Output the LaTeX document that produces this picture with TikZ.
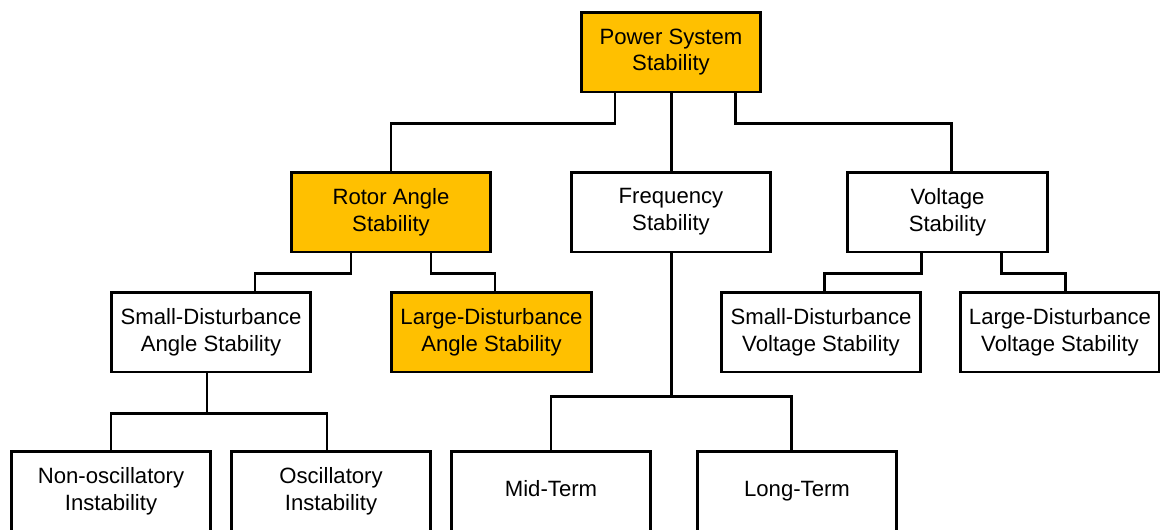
\documentclass[tikz,border=0pt]{standalone}
\usepackage{fontspec}
\setmainfont{Liberation Sans}
\usepackage{xcolor}
\usetikzlibrary{calc}
\definecolor{amber}{HTML}{FFC000}

\begin{document}
\begin{tikzpicture}[x=0.02cm, y=-0.02cm, line width=1.7pt,
    box/.style={draw, rectangle, minimum width=4cm, minimum height=1.6cm,
      inner sep=0pt, align=center, font=\fontsize{12.6}{15.3}\selectfont},
    hl/.style={box, fill=amber}]
    \useasboundingbox (0,0) rectangle (1160,529);
    % top
    \node[hl, minimum width=3.6cm] (pss) at (671,52) {Power System\\Stability};
    % second row
    \node[hl] (rotor) at (391,212) {Rotor Angle\\Stability};
    \node[box] (freq) at (671,212) {Frequency\\Stability};
    \node[box] (volt) at (947.5,212) {Voltage\\Stability};
    % third row
    \node[box] (sda) at (211,332) {Small-Disturbance\\Angle Stability};
    \node[hl] (lda) at (491.5,332) {Large-Disturbance\\Angle Stability};
    \node[box] (sdv) at (821,332) {Small-Disturbance\\Voltage Stability};
    \node[box] (ldv) at (1060,332) {Large-Disturbance\\Voltage Stability};
    % bottom row
    \node[box] (nonosc) at (111,491) {Non-oscillatory\\Instability};
    \node[box] (osc) at (331,491) {Oscillatory\\Instability};
    \node[box] (mid) at (551,491) {\strut Mid-Term};
    \node[box] (long) at (797,491) {\strut Long-Term};
    % connectors
    \draw ($(pss.south)+(-56,0)$) -- ++(0,30) -| (rotor.north);
    \draw (pss.south) -- (freq.north);
    \draw ($(pss.south)+(64,0)$) -- ++(0,30) -| ($(volt.north)+(3.5,0)$);
    \draw ($(rotor.south)+(-40,0)$) -- ++(0,20) -| ($(sda.north)+(44,0)$);
    \draw ($(rotor.south)+(40,0)$) -- ++(0,20) -| ($(lda.north)+(3.5,0)$);
    \draw ($(volt.south)+(-26.5,0)$) -- ++(0,20) -| ($(sdv.north)+(3,0)$);
    \draw ($(volt.south)+(53.5,0)$) -- ++(0,20) -| ($(ldv.north)+(5,0)$);
    \draw (freq.south) -- ++(0,143) -| (mid.north);
    \draw (freq.south) -- ++(0,143) -| ($(long.north)+(-6,0)$);
    \draw ($(sda.south)+(-4,0)$) -- ++(0,40) -| (nonosc.north);
    \draw ($(sda.south)+(-4,0)$) -- ++(0,40) -| ($(osc.north)+(-4,0)$);
\end{tikzpicture}
\end{document}
